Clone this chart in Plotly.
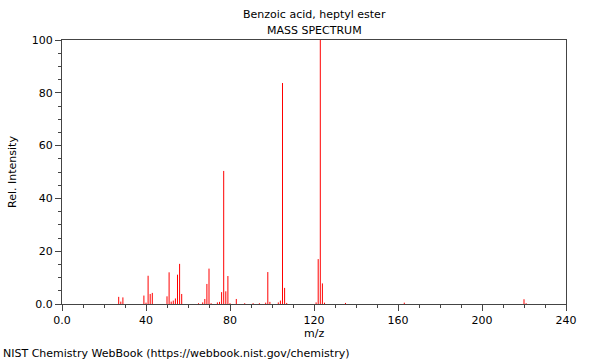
import plotly.graph_objects as go

mz = [27, 28, 29, 39, 40, 41, 42, 43, 50, 51, 52, 53, 54, 55, 56, 57,
      65, 67, 68, 69, 70, 71, 74, 75, 76, 77, 78, 79, 80, 83, 87, 91, 94,
      97, 98, 99, 103, 104, 105, 106, 107, 121, 122, 123, 124, 125,
      135, 163, 220, 221]
intensity = [2.7, 0.9, 2.5, 3.2, 0.5, 10.7, 3.8, 4.2, 2.9, 12.0, 0.9, 1.3, 2.1, 11.1, 15.2, 3.8,
             0.3, 0.6, 1.9, 7.6, 13.4, 0.3, 0.6, 0.8, 4.5, 50.4, 4.8, 10.6, 0.3, 1.9, 0.3, 0.3, 0.3,
             0.5, 12.1, 0.8, 0.6, 1.3, 83.7, 6.1, 0.4, 0.6, 17.0, 100.0, 7.8, 0.5,
             0.4, 0.5, 1.8, 0.3]

x_ticks = [0, 40, 80, 120, 160, 200, 240]
x_tick_text = ["0.0", "40", "80", "120", "160", "200", "240"]
y_ticks = [0, 20, 40, 60, 80, 100]
y_tick_text = ["0.0", "20", "40", "60", "80", "100"]

title_line1 = "Benzoic acid, heptyl ester"
title_line2 = "MASS SPECTRUM"
x_title = "m/z"
footer = "NIST Chemistry WebBook (https://webbook.nist.gov/chemistry)"

FONT = "DejaVu Sans"
AX = "#444444"

xs, ys = [], []
for m, v in zip(mz, intensity):
    xs += [m, m, None]
    ys += [0, v, None]

fig = go.Figure()
fig.add_trace(go.Scatter(x=xs, y=ys, mode="lines",
                         line=dict(color="rgb(255,0,0)", width=1),
                         hoverinfo="skip", showlegend=False))

fig.update_layout(
    width=600, height=360,
    margin=dict(l=62, r=34, t=40, b=56, autoexpand=False),
    paper_bgcolor="white", plot_bgcolor="white",
    font=dict(family=FONT, size=11, color="black"),
    showlegend=False,
)
fig.update_xaxes(
    range=[0, 240], tickmode="array", tickvals=x_ticks, ticktext=x_tick_text,
    ticks="outside", ticklen=6, tickcolor=AX, tickwidth=1,
    showline=True, linecolor=AX, linewidth=1, mirror=True,
    showgrid=False, zeroline=False, automargin=False,
    minor=dict(dtick=10, tick0=0, ticks="outside", ticklen=3, tickcolor=AX, showgrid=False),
    tickfont=dict(size=11),
)
fig.update_yaxes(
    range=[0, 100], tickmode="array", tickvals=y_ticks, ticktext=y_tick_text,
    ticks="outside", ticklen=6, tickcolor=AX, tickwidth=1,
    showline=True, linecolor=AX, linewidth=1, mirror=True,
    showgrid=False, zeroline=False, automargin=False,
    minor=dict(dtick=5, tick0=0, ticks="outside", ticklen=3, tickcolor=AX, showgrid=False),
    title=dict(text="Rel. Intensity", font=dict(size=11), standoff=12),
    tickfont=dict(size=11),
)

fig.add_annotation(text=title_line1, xref="paper", yref="paper", x=0.5, y=1 + 26 / 264,
                   showarrow=False, yanchor="middle", xanchor="center", font=dict(size=11))
fig.add_annotation(text=title_line2, xref="paper", yref="paper", x=0.5, y=1 + 10 / 264,
                   showarrow=False, yanchor="middle", xanchor="center", font=dict(size=11))
fig.add_annotation(text=x_title, xref="paper", yref="paper", x=0.5, y=-29 / 264,
                   showarrow=False, yanchor="middle", xanchor="center", font=dict(size=11))
fig.add_annotation(text=footer, xref="paper", yref="paper", x=-61 / 504, y=-49 / 264,
                   showarrow=False, yanchor="middle", xanchor="left", font=dict(size=11))

fig.write_html("out.html", config={"displayModeBar": False},
               post_script="document.body.style.margin='0px';document.body.style.overflow='hidden';")
